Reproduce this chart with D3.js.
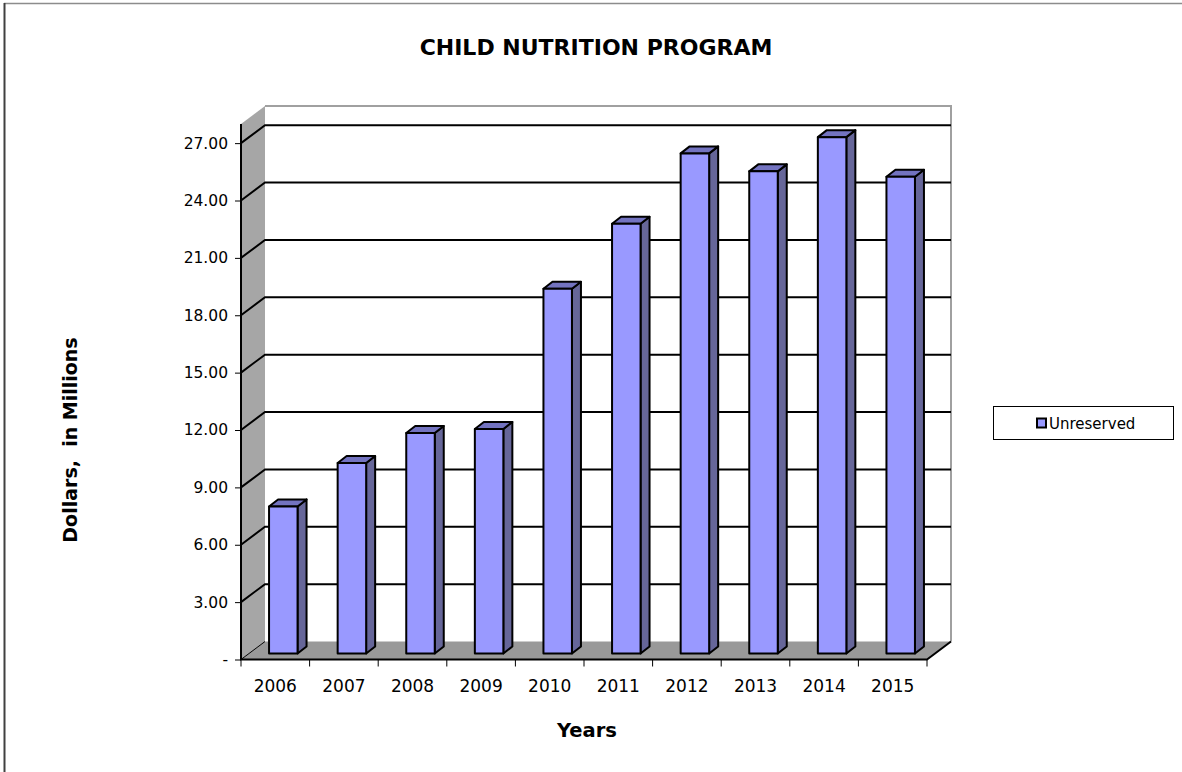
<!DOCTYPE html>
<html>
<head>
<meta charset="utf-8">
<script src="https://cdn.jsdelivr.net/npm/d3@7"></script>
<style>
  body { margin: 0; background: #fff; }
  svg { display: block; font-family: "DejaVu Sans", Verdana, sans-serif; }
</style>
</head>
<body>
<svg width="1182" height="772"></svg>
<script>
// data
const years = ["2006", "2007", "2008", "2009", "2010", "2011", "2012", "2013", "2014", "2015"];
const unreserved = [7.69, 9.96, 11.53, 11.74, 19.07, 22.47, 26.15, 25.21, 27.0, 24.93];
const yTicks = [0, 3, 6, 9, 12, 15, 18, 21, 24, 27];

const svg = d3.select("svg");

// chart frame
svg.append("line").attr("x1", 4).attr("y1", 3.5).attr("x2", 1182).attr("y2", 3.5)
    .attr("stroke", "#8c8c8c").attr("stroke-width", 1.5);
svg.append("line").attr("x1", 4.5).attr("y1", 3).attr("x2", 4.5).attr("y2", 772)
    .attr("stroke", "#404040").attr("stroke-width", 2);

// 3d depth of the plot box
const depthX = 24, depthY = -18;

const x = d3.scaleBand().domain(years).range([241, 927]).padding(0);
const y = d3.scaleLinear().domain([0, 28]).range([659.5, 124]);

const plotL = x.range()[0], plotR = x.range()[1];
const plotT = y(28), plotB = y(0);

// back wall
svg.append("rect")
    .attr("x", plotL + depthX).attr("y", plotT + depthY)
    .attr("width", plotR - plotL).attr("height", plotB - plotT)
    .attr("fill", "#fff");
svg.append("path")
    .attr("d", `M${plotL + depthX},${plotT + depthY}H${plotR + depthX}V${plotB + depthY}`)
    .attr("fill", "none").attr("stroke", "#a0a0a0").attr("stroke-width", 2);

// left wall
svg.append("path")
    .attr("d", `M${plotL},${plotT}L${plotL + depthX},${plotT + depthY}V${plotB + depthY}L${plotL},${plotB}Z`)
    .attr("fill", "#a6a6a6");

// floor
svg.append("path")
    .attr("d", `M${plotL},${plotB}H${plotR}L${plotR + depthX},${plotB + depthY}H${plotL + depthX}Z`)
    .attr("fill", "#999999");

// gridlines on back wall + left wall
const grid = svg.append("g").attr("stroke", "#000").attr("stroke-width", 2).attr("fill", "none");
yTicks.filter(v => v > 0).forEach(v => {
    grid.append("path")
        .attr("d", `M${plotL},${y(v)}L${plotL + depthX},${y(v) + depthY}H${plotR + depthX}`);
});

// floor edges + axis line
svg.append("path")
    .attr("d", `M${plotL},${plotT}V${plotB}H${plotR}L${plotR + depthX},${plotB + depthY}`)
    .attr("fill", "none").attr("stroke", "#000").attr("stroke-width", 2);
svg.append("path")
    .attr("d", `M${plotL},${plotB}L${plotL + depthX},${plotB + depthY}`)
    .attr("fill", "none").attr("stroke", "#000").attr("stroke-width", 1);

// bars
const barW = 28.5, barOffX = 8, barOffY = -6, barDX = 9, barDY = -7;
const bars = svg.append("g").attr("stroke", "#000").attr("stroke-width", 2).attr("stroke-linejoin", "round");
years.forEach((yr, i) => {
    const x0 = x(yr) + (x.bandwidth() - barW) / 2 + barOffX;
    const x1 = x0 + barW;
    const yt = y(unreserved[i]) + barOffY;
    const yb = y(0) + barOffY;
    bars.append("path")
        .attr("d", `M${x1},${yt}L${x1 + barDX},${yt + barDY}V${yb + barDY}L${x1},${yb}Z`)
        .attr("fill", "#666699");
    bars.append("path")
        .attr("d", `M${x0},${yt}L${x0 + barDX},${yt + barDY}H${x1 + barDX}L${x1},${yt}Z`)
        .attr("fill", "#7373c0");
    bars.append("rect")
        .attr("x", x0).attr("y", yt).attr("width", barW).attr("height", yb - yt)
        .attr("fill", "#9999ff");
});

// y axis
const yAxis = svg.append("g")
    .attr("transform", `translate(${plotL},0)`)
    .call(d3.axisLeft(y).tickValues(yTicks).tickSize(6).tickPadding(7)
        .tickFormat(v => v === 0 ? "-" : d3.format(".2f")(v)));
yAxis.select(".domain").remove();
yAxis.selectAll(".tick line").attr("stroke", "#000").attr("stroke-width", 1);
yAxis.selectAll("text").attr("font-family", "DejaVu Sans").attr("font-size", 15.5).attr("fill", "#000");

// x axis
const xAxis = svg.append("g")
    .attr("transform", `translate(0,${plotB})`)
    .call(d3.axisBottom(x).tickSize(0).tickPadding(20));
xAxis.select(".domain").remove();
xAxis.selectAll("text").attr("font-family", "DejaVu Sans").attr("font-size", 17).attr("fill", "#000");
svg.append("g").selectAll("line")
    .data(d3.range(years.length + 1))
    .join("line")
    .attr("x1", k => plotL + k * x.step()).attr("x2", k => plotL + k * x.step())
    .attr("y1", plotB).attr("y2", plotB + 7)
    .attr("stroke", "#000").attr("stroke-width", 1);

// titles
svg.append("text")
    .attr("x", 596).attr("y", 55)
    .attr("text-anchor", "middle")
    .attr("font-size", 22).attr("font-weight", "bold")
    .text("CHILD NUTRITION PROGRAM");

svg.append("text")
    .attr("x", 587).attr("y", 737)
    .attr("text-anchor", "middle")
    .attr("font-size", 19.5).attr("font-weight", "bold")
    .text("Years");

svg.append("text")
    .attr("transform", "translate(77,440) rotate(-90)")
    .attr("text-anchor", "middle")
    .attr("font-size", 19).attr("font-weight", "bold")
    .style("white-space", "pre")
    .text("Dollars,  in Millions");

// legend
const legend = svg.append("g").attr("transform", "translate(993,406)");
legend.append("rect")
    .attr("x", 0.5).attr("y", 0.5).attr("width", 180).attr("height", 33)
    .attr("fill", "#fff").attr("stroke", "#000").attr("stroke-width", 1);
legend.append("rect")
    .attr("x", 44).attr("y", 12.5).attr("width", 9).attr("height", 9)
    .attr("fill", "#9999ff").attr("stroke", "#000").attr("stroke-width", 2);
legend.append("text")
    .attr("x", 56).attr("y", 22.5)
    .attr("font-size", 15)
    .text("Unreserved");
</script>
</body>
</html>
